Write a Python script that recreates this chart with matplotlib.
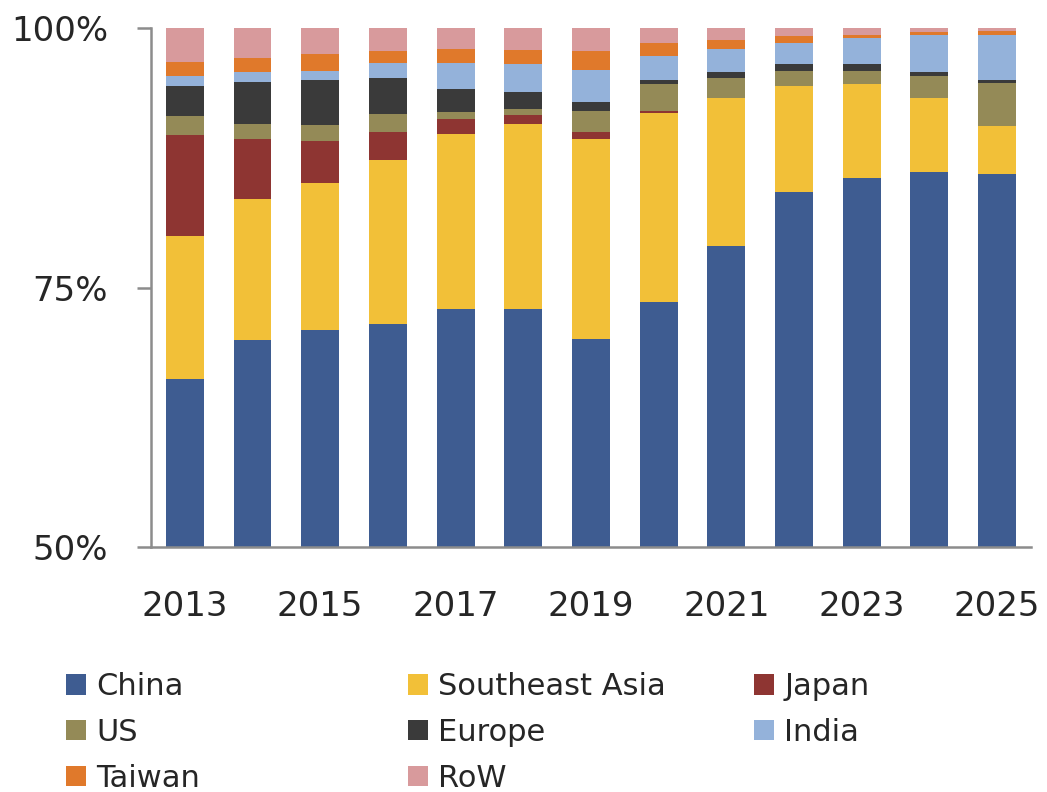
import matplotlib.pyplot as plt
import numpy as np
from matplotlib.patches import Patch

# Share of production by region, % of total
years = [2013, 2014, 2015, 2016, 2017, 2018, 2019, 2020, 2021, 2022, 2023, 2024, 2025]
china = [66.2, 69.9, 70.9, 71.5, 72.9, 72.9, 70.0, 73.6, 79.0, 84.2, 85.6, 86.15, 85.9]
southeast_asia = [13.8, 13.6, 14.2, 15.8, 16.85, 17.9, 19.3, 18.25, 14.3, 10.2, 9.0, 7.15, 4.65]
japan = [9.7, 5.8, 4.0, 2.7, 1.45, 0.85, 0.65, 0.2, 0.0, 0.0, 0.0, 0.0, 0.0]
us = [1.8, 1.5, 1.6, 1.7, 0.7, 0.55, 2.1, 2.55, 1.9, 1.45, 1.25, 2.1, 4.15]
europe = [2.9, 4.0, 4.25, 3.5, 2.25, 1.65, 0.85, 0.4, 0.6, 0.65, 0.65, 0.4, 0.25]
india = [1.0, 1.0, 0.95, 1.45, 2.5, 2.7, 3.1, 2.3, 2.15, 2.1, 2.5, 3.55, 4.35]
taiwan = [1.3, 1.35, 1.6, 1.1, 1.35, 1.35, 1.75, 1.3, 0.85, 0.65, 0.35, 0.3, 0.4]
row = [3.3, 2.85, 2.5, 2.25, 2.0, 2.1, 2.25, 1.4, 1.2, 0.75, 0.65, 0.35, 0.3]

series = [
    ('China', china, '#3E5C91'),
    ('Southeast Asia', southeast_asia, '#F2C038'),
    ('Japan', japan, '#8E3532'),
    ('US', us, '#948A57'),
    ('Europe', europe, '#3A3A3A'),
    ('India', india, '#94B2DA'),
    ('Taiwan', taiwan, '#E0792B'),
    ('RoW', row, '#D89A9C'),
]

plt.rcParams['font.family'] = 'DejaVu Sans'

fig = plt.figure(figsize=(10.47, 7.92), dpi=100)
ax = fig.add_axes([0.1442, 0.3093, 0.8405, 0.6553])

x = np.arange(len(years))
bottom = np.zeros(len(years))
for name, vals, color in series:
    vals = np.array(vals)
    ax.bar(x, vals, width=0.56, bottom=bottom, color=color, label=name)
    bottom += vals

ax.set_xlim(-0.5, len(years) - 0.5)
ax.set_ylim(50, 100)
ax.set_yticks([50, 75, 100])
ax.set_yticklabels(['50%', '75%', '100%'])
ax.set_xticks(x[::2])
ax.set_xticklabels([str(y) for y in years[::2]])

for side in ['top', 'right']:
    ax.spines[side].set_visible(False)
for side in ['left', 'bottom']:
    ax.spines[side].set_color('#8C8C8C')
    ax.spines[side].set_linewidth(1.8)

ax.tick_params(axis='y', direction='out', length=10, width=1.8, color='#8C8C8C',
               labelsize=24.5, pad=21, labelcolor='#262626')
ax.tick_params(axis='x', length=0, labelsize=24.5, pad=31, labelcolor='#262626')

# Legend laid out in three columns, read row by row
handles = {name: Patch(facecolor=color) for name, _, color in series}
columns = [
    (['China', 'US', 'Taiwan'], 66),
    (['Southeast Asia', 'Europe', 'RoW'], 408),
    (['Japan', 'India'], 754),
]
for names, xpix in columns:
    fig.legend([handles[n] for n in names], names,
               loc='upper left', bbox_to_anchor=(xpix / 1047, 1 - 672 / 792),
               frameon=False, fontsize=22, borderpad=0, borderaxespad=0,
               handlelength=0.66, handleheight=0.66, handletextpad=0.33,
               labelspacing=0.55, labelcolor='#262626')

fig.savefig('out.png', dpi=100)
